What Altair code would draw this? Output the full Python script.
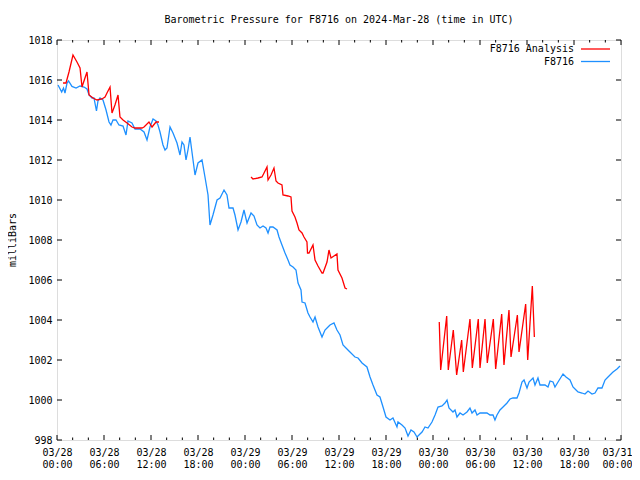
import json
import altair as alt
import pandas as pd

FONT = "DejaVu Sans Mono"
W, H = 564, 400

TITLE = "Barometric Pressure for F8716 on 2024-Mar-28 (time in UTC)"
Y_TITLE = "milliBars"
SERIES = ["F8716 Analysis", "F8716"]
COLORS = ["#ff0000", "#1e90ff"]

# hours since 2024-03-28 00:00 UTC
X_MAJOR = [0, 6, 12, 18, 24, 30, 36, 42, 48, 54, 60, 66, 72]
X_MINOR = [2, 4, 8, 10, 14, 16, 20, 22, 26, 28, 32, 34, 38, 40, 44, 46, 50, 52, 56, 58, 62, 64, 68, 70]
X_LABELS = ["03/28|00:00", "03/28|06:00", "03/28|12:00", "03/28|18:00",
            "03/29|00:00", "03/29|06:00", "03/29|12:00", "03/29|18:00",
            "03/30|00:00", "03/30|06:00", "03/30|12:00", "03/30|18:00",
            "03/31|00:00"]
Y_TICKS = [998, 1000, 1002, 1004, 1006, 1008, 1010, 1012, 1014, 1016, 1018]

# F8716 observations
blue_h = [0.13, 0.6, 0.83, 1.02, 1.28, 1.47, 1.91, 2.43, 2.94, 3.45, 3.83, 4.09, 4.47, 4.72, 5.04,
          5.23, 5.49, 5.87, 6.26, 6.64, 6.89, 7.15, 7.53, 7.91, 8.43, 8.81, 9.06, 9.57, 9.96, 10.6,
          11.11, 11.49, 11.87, 12.26, 12.64, 12.89, 13.15, 13.53, 13.79, 14.04, 14.43, 14.81, 15.32,
          15.7, 15.96, 16.21, 16.47, 16.72, 16.98, 17.23, 17.62, 18.0, 18.51, 18.89, 19.28, 19.53,
          19.91, 20.43, 20.81, 21.32, 21.7, 21.96, 22.47, 22.72, 23.11, 23.49, 23.87, 24.26, 24.77,
          25.15, 25.53, 25.91, 26.3, 26.68, 26.94, 27.19, 27.57, 28.09, 28.34, 28.72, 29.11, 29.49,
          29.74, 30.13, 30.51, 30.77, 31.15, 31.28, 31.66, 32.04, 32.3, 32.68, 32.94, 33.32, 33.83,
          34.21, 34.6, 34.85, 35.36, 35.74, 36.13, 36.51, 36.89, 37.4, 38.04, 38.43, 38.94, 39.57,
          39.96, 40.34, 40.85, 41.23, 41.62, 42.0, 42.51, 42.89, 43.4, 43.53, 44.04, 44.43, 44.81,
          45.19, 45.57, 45.96, 46.34, 46.6, 46.98, 47.36, 47.87, 48.26, 48.64, 49.15, 49.53, 49.79,
          50.04, 50.55, 50.81, 51.06, 51.45, 51.83, 52.34, 52.72, 52.98, 53.36, 53.62, 54.0, 54.51,
          54.89, 55.28, 55.66, 55.91, 56.17, 56.55, 56.94, 57.45, 57.83, 58.21, 58.72, 58.98, 59.36,
          59.62, 60.0, 60.26, 60.77, 61.02, 61.4, 61.66, 62.3, 62.68, 62.94, 63.32, 63.57, 63.96,
          64.6, 64.98, 65.49, 65.87, 66.26, 66.51, 67.02, 67.4, 67.79, 68.3, 68.68, 69.06, 69.57,
          69.96, 70.34, 70.98, 71.49, 71.87]
blue_p = [1015.75, 1015.4, 1015.6, 1015.35, 1015.85, 1015.95, 1015.68, 1015.6, 1015.7, 1015.65,
          1015.55, 1015.25, 1015.1, 1015.1, 1014.45, 1014.95, 1015.1, 1015.0, 1014.5, 1013.9,
          1013.75, 1014.0, 1014.0, 1013.75, 1013.7, 1013.25, 1013.95, 1013.85, 1013.55, 1013.55,
          1013.4, 1013.0, 1013.65, 1014.05, 1013.95, 1013.75, 1013.4, 1012.75, 1012.5, 1012.6,
          1013.65, 1013.35, 1012.85, 1012.25, 1012.9, 1012.75, 1012.0, 1012.5, 1013.15, 1012.4,
          1011.25, 1011.85, 1012.0, 1011.15, 1010.25, 1008.75, 1009.25, 1010.0, 1010.1, 1010.5,
          1010.25, 1009.6, 1009.6, 1009.25, 1008.5, 1008.9, 1009.5, 1008.85, 1009.35, 1009.2,
          1008.75, 1008.6, 1008.7, 1008.6, 1008.35, 1008.65, 1008.65, 1008.5, 1008.15, 1007.75,
          1007.35, 1007.0, 1006.75, 1006.65, 1006.5, 1005.85, 1005.5, 1004.9, 1004.85, 1004.35,
          1004.15, 1003.9, 1004.15, 1003.65, 1003.15, 1003.5, 1003.65, 1003.75, 1003.85, 1003.5,
          1003.25, 1002.75, 1002.6, 1002.4, 1002.15, 1002.1, 1001.85, 1001.65, 1001.15, 1000.75,
          1000.25, 1000.15, 999.65, 999.15, 999.0, 999.1, 998.65, 998.9, 998.75, 998.6, 998.2,
          998.5, 998.4, 998.15, 998.3, 998.4, 998.65, 998.6, 998.9, 999.25, 999.65, 999.7, 999.85,
          1000.0, 999.6, 999.4, 999.5, 999.15, 999.35, 999.25, 999.4, 999.6, 999.35, 999.5, 999.25,
          999.35, 999.35, 999.35, 999.25, 999.25, 999.0, 999.25, 999.5, 999.65, 999.85, 1000.05,
          1000.1, 1000.1, 1000.35, 1000.9, 1001.0, 1000.6, 1000.9, 1001.1, 1000.75, 1001.1,
          1000.75, 1000.75, 1000.65, 1000.95, 1000.9, 1000.65, 1000.9, 1001.3, 1001.15, 1001.0,
          1000.65, 1000.5, 1000.4, 1000.35, 1000.3, 1000.45, 1000.3, 1000.35, 1000.6, 1000.6,
          1001.0, 1001.15, 1001.4, 1001.55, 1001.7]

# F8716 Analysis (three runs)
red_h = [0.77, 1.15, 1.53, 2.04, 2.55, 2.94, 3.19, 3.57, 3.83, 4.09, 4.6, 5.11, 5.74, 6.13, 6.38,
         6.77, 7.02, 7.4, 7.79, 8.04, 8.43, 8.94, 9.57, 9.96, 10.85, 11.11, 11.74, 12.13, 12.64, 13.02,
         24.77, 25.02, 25.66, 26.17, 26.43, 26.81, 26.94, 27.32, 27.7, 27.96, 28.21, 28.72, 28.85,
         29.49, 29.87, 30.0, 30.38, 30.64, 30.89, 31.28, 31.53, 31.91, 31.98, 32.17, 32.68, 32.94,
         33.32, 33.83, 33.96, 34.47, 34.72, 34.98, 35.74, 35.87, 36.38, 36.77, 37.02,
         48.8, 48.98, 49.75, 49.95, 50.59, 51.02, 51.66, 51.87, 52.72, 53.02, 53.78, 54.0, 54.64,
         54.93, 55.7, 56.0, 56.77, 57.06, 57.7, 57.96, 58.77, 58.98, 59.83, 60.09, 60.68, 60.94]
red_p = [1015.85, 1015.85, 1016.4, 1017.25, 1016.9, 1016.6, 1015.65, 1016.1, 1016.4, 1015.25,
         1015.1, 1015.0, 1015.05, 1015.15, 1015.35, 1015.65, 1014.35, 1014.75, 1015.25, 1014.15,
         1014.0, 1013.85, 1013.65, 1013.6, 1013.6, 1013.65, 1013.9, 1013.65, 1013.9, 1013.9,
         1011.15, 1011.05, 1011.1, 1011.15, 1011.35, 1011.65, 1011.0, 1011.25, 1011.6, 1010.95,
         1010.85, 1010.75, 1010.25, 1010.2, 1010.15, 1009.45, 1009.15, 1008.85, 1008.5, 1008.35,
         1008.15, 1007.9, 1007.35, 1007.35, 1007.75, 1007.0, 1006.7, 1006.35, 1006.35, 1006.9,
         1007.5, 1007.1, 1007.3, 1006.5, 1006.1, 1005.6, 1005.55,
         1003.9, 1001.5, 1004.2, 1001.5, 1003.5, 1001.25, 1003.0, 1001.4, 1004.05, 1001.6,
         1004.05, 1001.6, 1004.05, 1001.85, 1004.05, 1001.55, 1004.3, 1001.75, 1004.5, 1002.15,
         1004.25, 1002.4, 1004.8, 1002.0, 1005.7, 1003.15]
red_seg = [1] * 30 + [2] * 37 + [3] * 26

df_blue = pd.DataFrame({"h": blue_h, "p": blue_p})
df_red = pd.DataFrame({"h": red_h, "p": red_p, "seg": red_seg})

label_list = json.dumps(X_LABELS).replace('"', "'")
x_scale = alt.Scale(domain=[0, 72], nice=False, zero=False)
y_scale = alt.Scale(domain=[998, 1018], nice=False, zero=False)

x_axis = alt.Axis(values=X_MAJOR, labelExpr=f"split({label_list}[round(datum.value/6)], '|')",
                  ticks=False, domain=False, grid=False, title=None, labelFont=FONT,
                  labelFontSize=10, labelColor="black", labelPadding=7, labelLineHeight=12,
                  labelBaseline="top", labelAngle=0, labelOverlap=False, labelFlush=False,
                  labelBound=False,
                  labelOffset={"condition": {"test": "datum.value >= 72", "value": -4}, "value": 0})
y_axis = alt.Axis(values=Y_TICKS, ticks=False, domain=False, grid=False, title=None,
                  labelFont=FONT, labelFontSize=10, labelColor="black", labelPadding=5,
                  labelOverlap=False, labelFlush=False, labelBound=False, format="d")

X = alt.X("h:Q", scale=x_scale, axis=x_axis)
Y = alt.Y("p:Q", scale=y_scale, axis=y_axis)

blue = alt.Chart(df_blue).mark_line(color=COLORS[1], strokeWidth=1.3).encode(x=X, y=Y)
red = alt.Chart(df_red).mark_line(color=COLORS[0], strokeWidth=1.3).encode(
    x=X, y=Y, detail="seg:N")

df_xmaj = pd.DataFrame({"h": X_MAJOR})
df_xmin = pd.DataFrame({"h": X_MINOR})
df_y = pd.DataFrame({"p": Y_TICKS})


def xticks(df, y0, y1):
    return alt.Chart(df).mark_rule(color="black", strokeWidth=1).encode(
        x=X, y=alt.value(y0), y2=alt.value(y1))


def yticks(x0, x1):
    return alt.Chart(df_y).mark_rule(color="black", strokeWidth=1).encode(
        y=Y, x=alt.value(x0), x2=alt.value(x1))


ticks = [
    xticks(df_xmaj, H, H - 5), xticks(df_xmaj, 0, 5),
    xticks(df_xmin, H, H - 2.5), xticks(df_xmin, 0, 2.5),
    yticks(0, 5), yticks(W - 5, W),
]

title = alt.Chart(pd.DataFrame({"t": [TITLE]})).mark_text(
    font=FONT, fontSize=10, baseline="middle", align="center", color="black"
).encode(text="t:N", x=alt.value(W / 2), y=alt.value(-20))

ytitle = alt.Chart(pd.DataFrame({"t": [Y_TITLE]})).mark_text(
    font=FONT, fontSize=10, baseline="middle", align="center", angle=270, color="black"
).encode(text="t:N", x=alt.value(-44), y=alt.value(H / 2))

legend_layers = []
for i, (name, col) in enumerate(zip(SERIES, COLORS)):
    yy = 9 + i * 12.5
    legend_layers.append(
        alt.Chart(pd.DataFrame({"t": [name]})).mark_text(
            font=FONT, fontSize=10, baseline="middle", align="right", color="black"
        ).encode(text="t:N", x=alt.value(517), y=alt.value(yy))
    )
    legend_layers.append(
        alt.Chart(pd.DataFrame({"t": [name]})).mark_rule(color=col, strokeWidth=1.3).encode(
            x=alt.value(524), x2=alt.value(553), y=alt.value(yy))
    )

chart = alt.layer(blue, red, *ticks, title, ytitle, *legend_layers).properties(
    width=W, height=H,
    autosize=alt.AutoSizeParams(type="none"),
    padding={"left": 49, "top": 32, "right": 11, "bottom": 32},
).configure_view(stroke="black", strokeWidth=1).configure_axis(
    labelOverlap=False, labelFlush=False
).configure(background="white")

chart.save("out.html", embed_options={"renderer": "svg", "actions": False})
